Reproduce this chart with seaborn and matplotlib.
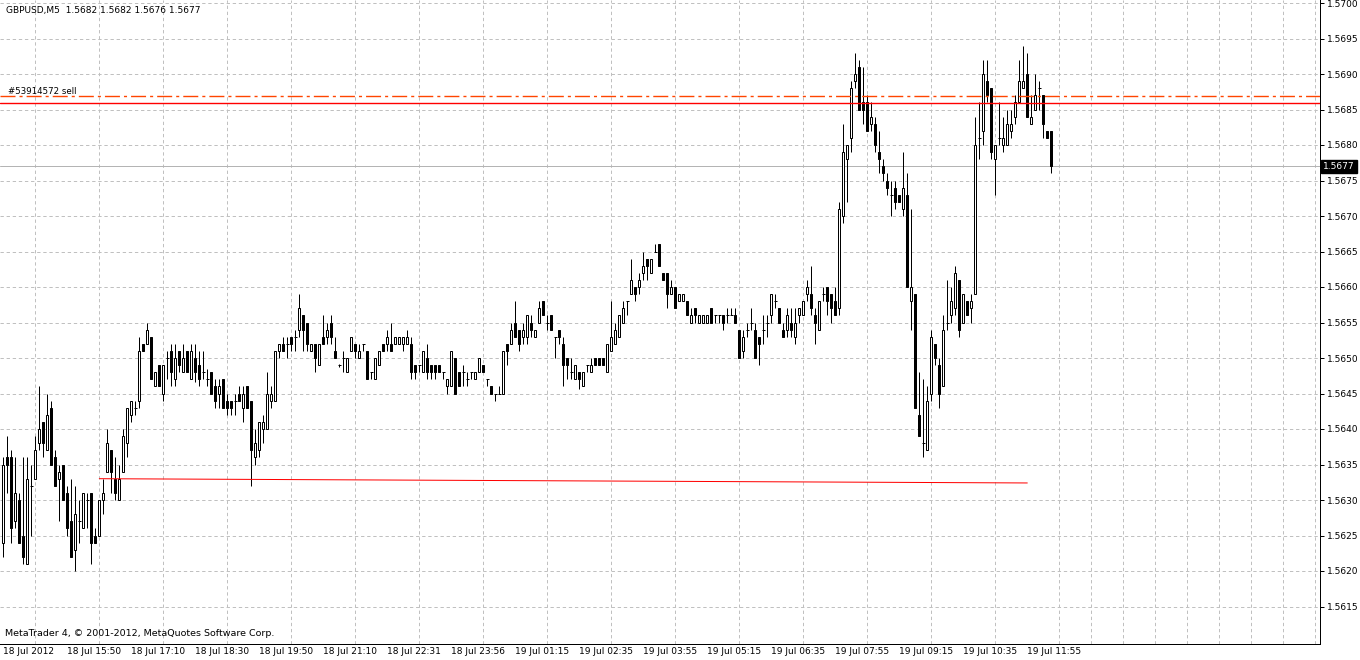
import numpy as np
import pandas as pd
import matplotlib
matplotlib.use("Agg")
import matplotlib.pyplot as plt
import matplotlib.transforms as mtransforms
import seaborn as sns

# ---------------- data ----------------
symbol_title = "GBPUSD,M5  1.5682 1.5682 1.5676 1.5677"
order_label = "#53914572 sell"
copyright_text = "MetaTrader 4, \u00a9 2001-2012, MetaQuotes Software Corp."

opens = [
    1.5624,1.5636,1.5636,1.5627,1.5630,1.5625,1.5621,1.5632,1.5633,1.5638,1.5641,1.5637,1.5643,1.5636,1.5633,1.5635,
    1.5631,1.5627,1.5623,1.5627,1.5626,1.5630,1.5631,1.5625,1.5625,1.5630,1.5634,1.5637,1.5633,1.5630,1.5634,1.5638,
    1.5642,1.5643,1.5644,1.5652,1.5652,1.5653,1.5646,1.5649,1.5645,1.5650,1.5651,1.5647,1.5651,1.5648,1.5651,1.5647,
    1.5650,1.5649,1.5648,1.5647,1.5648,1.5646,1.5645,1.5647,1.5644,1.5644,1.5644,1.5645,1.5643,1.5646,1.5644,1.5636,
    1.5637,1.5640,1.5640,1.5644,1.5644,1.5651,1.5652,1.5652,1.5653,1.5653,1.5654,1.5656,1.5655,1.5651,1.5652,1.5649,
    1.5653,1.5653,1.5655,1.5651,1.5649,1.5650,1.5648,1.5651,1.5652,1.5650,1.5652,1.5651,1.5648,1.5647,1.5649,1.5652,
    1.5652,1.5652,1.5652,1.5652,1.5652,1.5652,1.5652,1.5649,1.5649,1.5648,1.5650,1.5649,1.5649,1.5649,1.5648,1.5646,
    1.5646,1.5650,1.5648,1.5648,1.5647,1.5648,1.5647,1.5648,1.5649,1.5647,1.5646,1.5645,1.5645,1.5645,1.5652,1.5652,
    1.5655,1.5654,1.5653,1.5653,1.5655,1.5653,1.5655,1.5658,1.5655,1.5656,1.5653,1.5654,1.5652,1.5650,1.5648,1.5647,
    1.5648,1.5646,1.5649,1.5648,1.5650,1.5650,1.5650,1.5648,1.5651,1.5652,1.5653,1.5655,1.5658,1.5659,1.5660,1.5660,
    1.5662,1.5664,1.5662,1.5665,1.5666,1.5662,1.5662,1.5659,1.5660,1.5658,1.5658,1.5658,1.5655,1.5657,1.5655,1.5655,
    1.5655,1.5657,1.5656,1.5656,1.5656,1.5656,1.5656,1.5656,1.5654,1.5651,1.5654,1.5655,1.5654,1.5653,1.5654,1.5655,
    1.5656,1.5658,1.5657,1.5654,1.5654,1.5655,1.5653,1.5656,1.5656,1.5659,1.5659,1.5656,1.5654,1.5659,1.5660,1.5659,
    1.5658,1.5657,1.5670,1.5678,1.5681,1.5689,1.5691,1.5686,1.5686,1.5683,1.5683,1.5679,1.5677,1.5675,1.5673,1.5674,
    1.5673,1.5671,1.5673,1.5658,1.5659,1.5642,1.5638,1.5637,1.5645,1.5652,1.5649,1.5646,1.5655,1.5656,1.5657,1.5661,
    1.5655,1.5658,1.5657,1.5659,1.5681,1.5682,1.5689,1.5688,1.5678,1.5681,1.5680,1.5680,1.5682,1.5684,1.5686,1.5688,
    1.5690,1.5683,1.5685,1.5688,1.5687,1.5682,1.5682,
]
highs = [
    1.5636,1.5639,1.5637,1.5636,1.5631,1.5636,1.5636,1.5635,1.5639,1.5646,1.5641,1.5645,1.5644,1.5637,1.5635,1.5635,
    1.5632,1.5633,1.5632,1.5630,1.5631,1.5631,1.5631,1.5626,1.5630,1.5633,1.5640,1.5637,1.5636,1.5635,1.5640,1.5643,
    1.5644,1.5644,1.5653,1.5652,1.5655,1.5653,1.5648,1.5649,1.5649,1.5651,1.5652,1.5652,1.5651,1.5652,1.5651,1.5652,
    1.5652,1.5651,1.5651,1.56485,1.5648,1.5647,1.5647,1.5647,1.5645,1.5644,1.5645,1.5646,1.5646,1.5646,1.5644,1.5640,
    1.5641,1.5642,1.5648,1.5646,1.5651,1.5652,1.5653,1.5653,1.5653,1.5654,1.5659,1.5656,1.5655,1.5652,1.5652,1.5652,
    1.5656,1.5655,1.5656,1.5653,1.56492,1.5651,1.5650,1.5653,1.5652,1.5652,1.5652,1.5651,1.5648,1.5650,1.5651,1.5652,
    1.5654,1.5655,1.5653,1.5653,1.5653,1.5654,1.5653,1.5649,1.5649,1.5651,1.5652,1.5649,1.5649,1.5649,1.5648,1.5647,
    1.5651,1.5650,1.5648,1.5649,1.5648,1.5648,1.5648,1.5650,1.5649,1.5647,1.5646,1.5645,1.5646,1.5651,1.5652,1.5655,
    1.5658,1.5654,1.5655,1.5656,1.5656,1.5654,1.5658,1.5658,1.5656,1.5656,1.5653,1.5654,1.5653,1.5650,1.5650,1.5649,
    1.5648,1.5648,1.5649,1.5650,1.5650,1.5650,1.5650,1.5652,1.5658,1.5655,1.5656,1.5658,1.5658,1.5664,1.5660,1.5662,
    1.5665,1.5664,1.5664,1.5666,1.5666,1.5662,1.5662,1.5661,1.5660,1.5659,1.5659,1.5658,1.5657,1.5657,1.5656,1.5656,
    1.5656,1.5657,1.5656,1.5656,1.5656,1.5657,1.5657,1.5657,1.5654,1.5654,1.5655,1.5657,1.5655,1.5653,1.5656,1.5656,
    1.5659,1.5659,1.5657,1.5655,1.5657,1.5657,1.5657,1.5657,1.5658,1.5661,1.5663,1.5657,1.5658,1.5660,1.5660,1.5659,
    1.5660,1.5672,1.5683,1.5680,1.5689,1.5693,1.5692,1.5691,1.5687,1.5686,1.5684,1.5682,1.5678,1.5676,1.5675,1.5675,
    1.5673,1.5679,1.5676,1.5671,1.5659,1.5648,1.5647,1.5646,1.5654,1.5652,1.5650,1.5656,1.5661,1.5660,1.5663,1.5661,
    1.5659,1.5658,1.5659,1.5684,1.5686,1.5692,1.5692,1.5688,1.5680,1.5686,1.5684,1.5685,1.5685,1.5687,1.5692,1.5694,
    1.5693,1.5687,1.5690,1.5689,1.5687,1.5682,1.5682,
]
lows = [
    1.5622,1.5631,1.5624,1.5626,1.5624,1.5621,1.5621,1.5625,1.5633,1.5637,1.5636,1.5637,1.5635,1.5632,1.5627,1.5630,
    1.5625,1.5622,1.5620,1.5624,1.5626,1.5626,1.5621,1.5624,1.5625,1.5628,1.5634,1.5631,1.5630,1.5630,1.5634,1.5636,
    1.5641,1.5642,1.5643,1.5651,1.5652,1.5647,1.5646,1.5646,1.5644,1.5647,1.5646,1.5646,1.5648,1.5648,1.5648,1.5647,
    1.56466,1.5646,1.5647,1.5646,1.5645,1.5643,1.5643,1.5643,1.5642,1.5642,1.5642,1.5644,1.5641,1.5643,1.5632,1.5635,
    1.5636,1.5638,1.5640,1.5643,1.5644,1.5650,1.5651,1.5650,1.5651,1.5651,1.5653,1.5651,1.5651,1.5651,1.5648,1.5649,
    1.5652,1.5652,1.5652,1.5650,1.56488,1.5648,1.5648,1.5651,1.5650,1.5650,1.5651,1.5647,1.5647,1.5647,1.5649,1.5651,
    1.5651,1.5651,1.5652,1.5652,1.5651,1.5652,1.5647,1.5647,1.5648,1.5648,1.5647,1.5647,1.5647,1.5648,1.5647,1.5645,
    1.5646,1.5645,1.5646,1.5646,1.5646,1.5647,1.5647,1.5648,1.5648,1.5646,1.5645,1.5644,1.5645,1.5645,1.5649,1.5652,
    1.5653,1.5651,1.5652,1.5652,1.5653,1.5653,1.5655,1.5656,1.5654,1.5654,1.5650,1.5652,1.5646,1.5647,1.5647,1.5647,
    1.56456,1.5646,1.5648,1.5648,1.5649,1.5649,1.5649,1.5648,1.5651,1.5652,1.5653,1.5655,1.5656,1.5659,1.5658,1.5659,
    1.5661,1.5661,1.5662,1.5665,1.5663,1.5661,1.5657,1.5659,1.5657,1.5658,1.5658,1.5656,1.5655,1.5655,1.5655,1.5655,
    1.5655,1.5655,1.5655,1.5655,1.5654,1.5655,1.5656,1.5655,1.5650,1.5650,1.5653,1.5654,1.5650,1.5649,1.5652,1.5653,
    1.5655,1.5657,1.5655,1.5653,1.5653,1.5653,1.5652,1.5655,1.5656,1.5658,1.5656,1.5652,1.5654,1.5658,1.5656,1.5655,
    1.5656,1.5656,1.5669,1.5672,1.5679,1.5688,1.5685,1.5683,1.5682,1.5682,1.5679,1.5676,1.5675,1.5673,1.5670,1.5671,
    1.5672,1.5670,1.5660,1.5654,1.5643,1.5639,1.5636,1.5637,1.5644,1.5649,1.5643,1.5646,1.5654,1.5655,1.5656,1.5653,
    1.5655,1.5656,1.5655,1.5659,1.5678,1.5680,1.5686,1.5678,1.5673,1.5680,1.5679,1.5680,1.5681,1.5683,1.5686,1.5688,
    1.5684,1.5683,1.5685,1.5685,1.5681,1.5681,1.5676,
]
closes = [
    1.5635,1.5635,1.5626,1.5631,1.5624,1.5622,1.5633,1.5632,1.5637,1.5640,1.5638,1.5642,1.5635,1.5632,1.5634,1.5630,
    1.5626,1.5622,1.5628,1.5627,1.5631,1.5630,1.5624,1.5624,1.5630,1.5631,1.5638,1.5634,1.5631,1.5633,1.5639,1.5643,
    1.5644,1.5643,1.5651,1.5651,1.5654,1.5647,1.5648,1.5646,1.5649,1.5650,1.5648,1.5650,1.5649,1.5650,1.5648,1.5651,
    1.5648,1.5647,1.5648,1.5647,1.5645,1.5644,1.5646,1.5643,1.5643,1.5643,1.5644,1.5644,1.5645,1.5643,1.5637,1.5638,
    1.5641,1.5641,1.5645,1.5645,1.5651,1.5652,1.5651,1.5652,1.5652,1.5653,1.5657,1.5654,1.5652,1.5652,1.5650,1.5652,
    1.5652,1.5654,1.5653,1.5650,1.5649,1.5650,1.5650,1.5653,1.5651,1.5651,1.5652,1.5647,1.5648,1.5650,1.5651,1.5651,
    1.5653,1.5651,1.5653,1.5653,1.5653,1.5653,1.5648,1.5648,1.5649,1.5651,1.5648,1.5648,1.5648,1.5648,1.5648,1.5647,
    1.5651,1.5645,1.5646,1.5648,1.5647,1.5648,1.5648,1.5650,1.5648,1.5647,1.5645,1.5645,1.5645,1.5651,1.5651,1.5654,
    1.5653,1.5652,1.5654,1.5656,1.5654,1.5654,1.5657,1.5656,1.5655,1.5654,1.5653,1.5653,1.5649,1.5649,1.5648,1.5649,
    1.5647,1.5648,1.5649,1.5649,1.5649,1.5649,1.5649,1.5652,1.5653,1.5654,1.5656,1.5657,1.5658,1.5661,1.5659,1.5661,
    1.5663,1.5663,1.5664,1.5665,1.5663,1.5661,1.5659,1.5660,1.5657,1.5659,1.5659,1.5656,1.5656,1.5656,1.5656,1.5656,
    1.5656,1.5655,1.5656,1.5656,1.5655,1.5656,1.5656,1.5655,1.5650,1.5653,1.5654,1.5655,1.5650,1.5652,1.5654,1.5655,
    1.5659,1.5658,1.5655,1.5653,1.5656,1.5654,1.5655,1.5657,1.5658,1.5660,1.5657,1.5655,1.5658,1.5659,1.5658,1.5657,
    1.5656,1.5671,1.5679,1.5680,1.5688,1.5690,1.5685,1.5685,1.5682,1.5684,1.5680,1.5678,1.5676,1.5674,1.5673,1.5672,
    1.5672,1.5674,1.5660,1.5660,1.5643,1.5639,1.5638,1.5644,1.5653,1.5650,1.5645,1.5654,1.5655,1.5658,1.5662,1.5654,
    1.5659,1.5656,1.5658,1.5680,1.5681,1.5690,1.5687,1.5679,1.5680,1.5681,1.5681,1.5683,1.5683,1.5686,1.5689,1.5689,
    1.5684,1.5684,1.5687,1.5688,1.5683,1.5681,1.5677,
]

time_labels = ["18 Jul 2012", "18 Jul 15:50", "18 Jul 17:10", "18 Jul 18:30", "18 Jul 19:50",
               "18 Jul 21:10", "18 Jul 22:31", "18 Jul 23:56", "19 Jul 01:15", "19 Jul 02:35",
               "19 Jul 03:55", "19 Jul 05:15", "19 Jul 06:35", "19 Jul 07:55", "19 Jul 09:15",
               "19 Jul 10:35", "19 Jul 11:55"]
time_label_bars = [0, 16, 32, 48, 64, 80, 96, 112, 128, 144, 160, 176, 192, 208, 224, 240, 256]

price_ticks = [1.5615, 1.5620, 1.5625, 1.5630, 1.5635, 1.5640, 1.5645, 1.5650, 1.5655,
               1.5660, 1.5665, 1.5670, 1.5675, 1.5680, 1.5685, 1.5690, 1.5695, 1.5700]
price_tick_labels = ["1.5615", "1.5620", "1.5625", "1.5630", "1.5635", "1.5640", "1.5645", "1.5650",
                     "1.5655", "1.5660", "1.5665", "1.5670", "1.5675", "1.5680", "1.5685", "1.5690",
                     "1.5695", "1.5700"]

current_price = 1.5677
current_price_label = "1.5677"
sell_price = 1.56869
hline_price = 1.56859
trend_bars = [24, 256]
trend_prices = [1.56330, 1.56324]

# ---------------- drawing ----------------
sns.set_style("white")
plt.rcParams['font.family'] = ['DejaVu Sans']
plt.rcParams['lines.scale_dashes'] = False

W, H = 1360, 660
PX = 0.72  # one pixel in points at dpi 100
fig = plt.figure(figsize=(W / 100, H / 100), dpi=100, facecolor="white")
ax_bottom_px = 644
ax_right_px = 1320
ax = fig.add_axes([0, (H - ax_bottom_px) / H, ax_right_px / W, ax_bottom_px / H])
ax.set_facecolor("white")

df = pd.DataFrame({"bar": np.arange(len(opens)), "open": opens, "high": highs,
                   "low": lows, "close": closes})

# scales: 4 px per bar, 71 px per 0.001
ax.set_xlim(-3.3 / 4, (ax_right_px - 3.3) / 4)
ax.set_ylim(1.5700 - (ax_bottom_px - 3) / 71000, 1.5700 + 3 / 71000)

# grid
grid_kw = dict(color="#c0c0c0", linewidth=PX, linestyle=(0, (2.4, 2.0)))
ax.set_xticks(np.arange(8, 330, 8), minor=True)
ax.grid(which="minor", axis="x", **grid_kw)
ax.set_yticks(price_ticks)
ax.set_yticklabels(price_tick_labels)
ax.grid(which="major", axis="y", **grid_kw)
ax.grid(which="major", axis="x", visible=False)
ax.set_axisbelow(True)

# current bid line
ax.axhline(current_price, color="#b4b4b4", linewidth=PX, zorder=1.5)

# candles
ax.vlines(df["bar"], df["low"], df["high"], color="black", linewidth=PX, zorder=3)
doji = np.isclose(df["open"], df["close"])
body = df[~doji]
up = body["close"] > body["open"]
ax.bar(body["bar"], body["close"] - body["open"], bottom=body["open"], width=0.5,
       color=np.where(up, "white", "black"), edgecolor="black", linewidth=PX, zorder=4)
dj = df[doji]
ax.hlines(dj["open"], dj["bar"] - 0.375, dj["bar"] + 0.375, color="black", linewidth=PX, zorder=4)

# order lines
ax.axhline(sell_price, color="#ff4500", linewidth=1.0,
           linestyle=(0, (10.8, 2.9, 2.2, 2.9)), zorder=6)
ax.axhline(hline_price, color="#ff0000", linewidth=1.0, zorder=6)
sns.lineplot(x=trend_bars, y=trend_prices, color="#ff0000", linewidth=PX, ax=ax, zorder=6)

# axes styling
for s in ["left", "top"]:
    ax.spines[s].set_visible(False)
for s in ["right", "bottom"]:
    ax.spines[s].set_color("black")
    ax.spines[s].set_linewidth(PX)
ax.yaxis.tick_right()
ax.tick_params(axis="y", which="major", direction="out", length=3, width=PX,
               labelsize=6.5, pad=2, colors="black")
ax.set_xticks(time_label_bars)
ax.set_xticklabels(time_labels, ha="left")
ax.tick_params(axis="x", which="major", direction="out", length=2, width=PX,
               labelsize=6.5, pad=0.5, colors="black")
ax.tick_params(axis="x", which="minor", length=0)
ax.set_xlabel("")
ax.set_ylabel("")

# current price tag
trans = mtransforms.blended_transform_factory(ax.transAxes, ax.transData)
ax.text(1.0 + 3 / ax_right_px, current_price, current_price_label, transform=trans,
        ha="left", va="center", fontsize=6.5, color="white", zorder=10, clip_on=False,
        bbox=dict(boxstyle="square,pad=0.25", facecolor="black", edgecolor="black"))

# texts
fig.text(6 / W, 1 - 10 / H, symbol_title, fontsize=6.5, ha="left", va="center", color="black")
fig.text(8 / W, 1 - 91 / H, order_label, fontsize=6.2, ha="left", va="center", color="black")
fig.text(5 / W, 1 - 634 / H, copyright_text, fontsize=6.8, ha="left", va="center", color="black")

fig.savefig("out.png", dpi=100, facecolor="white")
